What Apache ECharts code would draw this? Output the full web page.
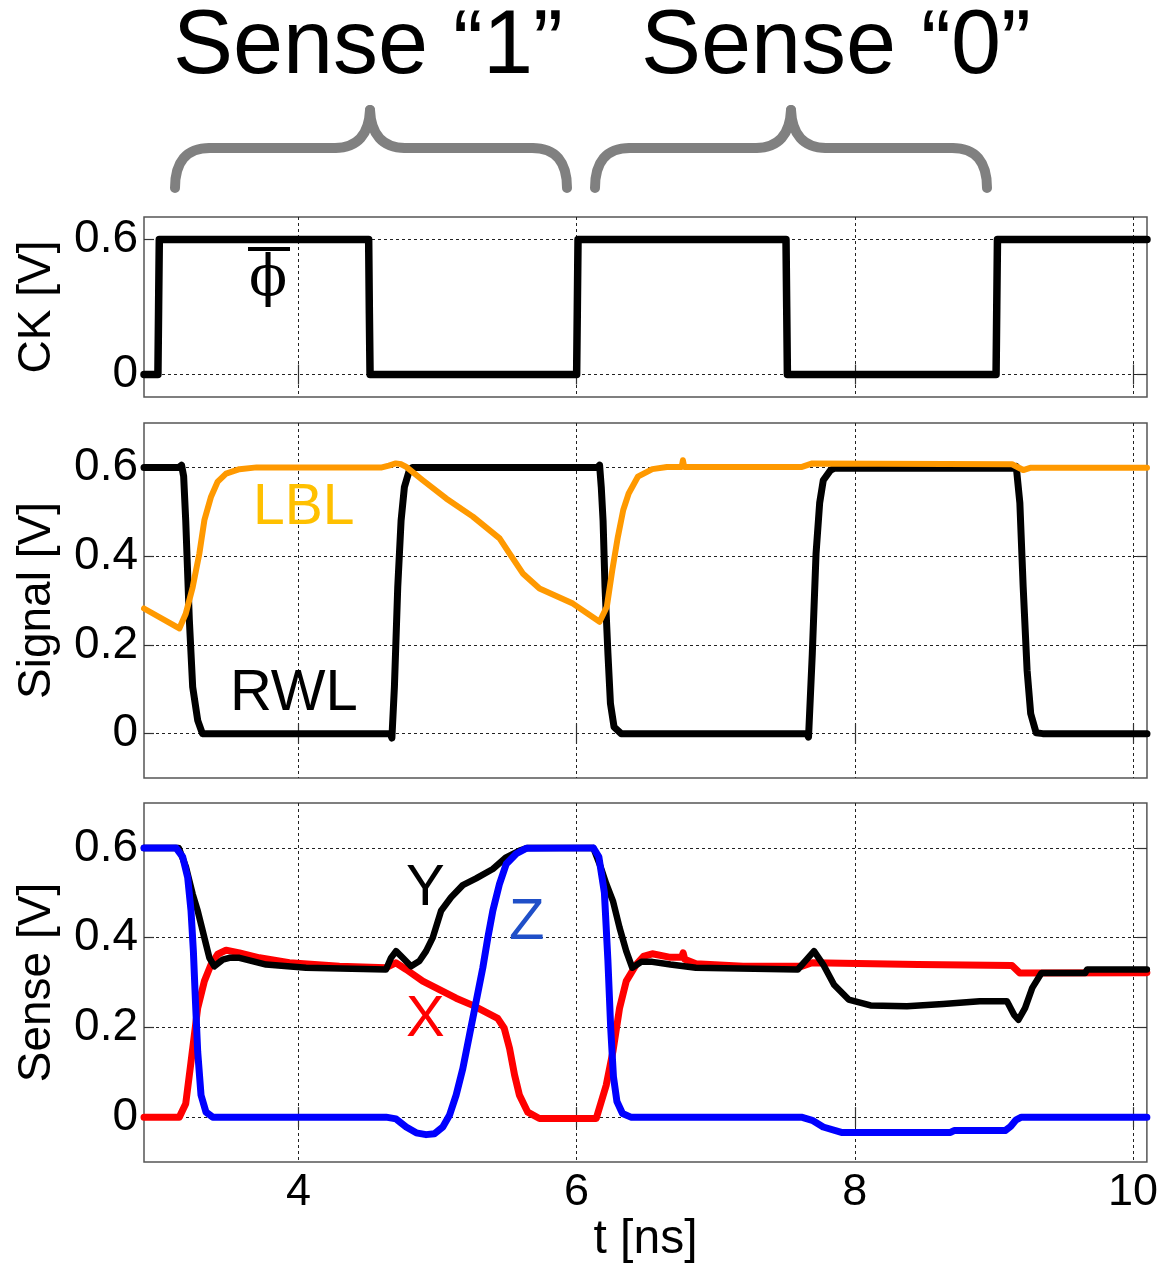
<!DOCTYPE html>
<html>
<head>
<meta charset="utf-8" />
<title>Sense waveforms</title>
<script src="https://cdn.jsdelivr.net/npm/echarts@6/dist/echarts.min.js"></script>
<style>
  html, body { margin: 0; padding: 0; background: #fff; }
  #main { width: 1161px; height: 1270px; }
</style>
</head>
<body>
<div id="main"></div>
<script>
// axis ticks
var xTicks = [4, 6, 8, 10];
var ckTicks = [0, 0.6];
var vTicks = [0, 0.2, 0.4, 0.6];

// [t (ns), V]
var ckPts = [[2.89,0],[2.99,0],[2.995,0.3],[3.0,0.6],[4.505,0.6],[4.51,0.27],[4.515,0],[6.0,0],[6.005,0.3],[6.01,0.6],[7.505,0.6],[7.51,0.3],[7.515,0],[9.015,0],[9.02,0.3],[9.025,0.6],[10.1,0.6]];

var rwlPts = [[2.89,0.6],[3.14,0.6],[3.16,0.605],[3.175,0.58],[3.19,0.48],[3.216,0.256],[3.24,0.105],[3.276,0.03],[3.31,0],[4.66,0],[4.672,-0.01],[4.69,0.105],[4.714,0.33],[4.738,0.48],[4.762,0.556],[4.798,0.594],[4.82,0.6],[6.15,0.6],[6.165,0.605],[6.177,0.556],[6.19,0.48],[6.204,0.33],[6.225,0.18],[6.243,0.068],[6.269,0.015],[6.32,0],[7.655,0],[7.667,-0.008],[7.694,0.18],[7.721,0.406],[7.747,0.52],[7.773,0.571],[7.826,0.594],[7.851,0.598],[9.14,0.598],[9.16,0.602],[9.186,0.52],[9.21,0.33],[9.238,0.143],[9.264,0.045],[9.303,0.002],[9.35,0],[10.1,0]];

var lblPts = [[2.89,0.282],[3.144,0.237],[3.19,0.27],[3.24,0.33],[3.288,0.406],[3.324,0.481],[3.372,0.534],[3.42,0.568],[3.48,0.586],[3.576,0.596],[3.7,0.6],[4.6,0.6],[4.65,0.604],[4.70,0.609],[4.74,0.607],[4.775,0.601],[4.894,0.571],[5.062,0.53],[5.254,0.489],[5.446,0.44],[5.517,0.406],[5.613,0.361],[5.733,0.327],[5.973,0.293],[6.165,0.252],[6.217,0.286],[6.256,0.368],[6.296,0.443],[6.335,0.504],[6.374,0.541],[6.44,0.579],[6.544,0.596],[6.649,0.601],[6.755,0.601],[6.764,0.616],[6.773,0.601],[7.62,0.601],[7.694,0.609],[9.13,0.607],[9.21,0.594],[9.26,0.599],[10.1,0.599]];

var xPts = [[2.89,0],[3.144,0],[3.19,0.03],[3.228,0.123],[3.276,0.243],[3.324,0.303],[3.372,0.34],[3.42,0.363],[3.48,0.372],[3.576,0.366],[3.72,0.355],[3.935,0.344],[4.295,0.336],[4.63,0.333],[4.70,0.344],[4.775,0.329],[4.894,0.303],[5.014,0.284],[5.134,0.265],[5.254,0.249],[5.433,0.22],[5.48,0.198],[5.518,0.153],[5.554,0.094],[5.589,0.049],[5.649,0.011],[5.733,-0.003],[6.141,-0.003],[6.213,0.071],[6.261,0.146],[6.309,0.243],[6.357,0.303],[6.429,0.34],[6.48,0.358],[6.544,0.364],[6.675,0.356],[6.755,0.356],[6.766,0.366],[6.777,0.352],[6.858,0.342],[7.197,0.336],[7.616,0.336],[7.694,0.344],[8.455,0.34],[9.13,0.338],[9.186,0.321],[10.1,0.322]];

var yPts = [[2.89,0.6],[3.14,0.6],[3.192,0.557],[3.24,0.497],[3.276,0.46],[3.312,0.415],[3.336,0.385],[3.36,0.355],[3.396,0.336],[3.456,0.351],[3.504,0.355],[3.576,0.355],[3.768,0.34],[4.055,0.333],[4.63,0.329],[4.666,0.355],[4.702,0.37],[4.75,0.355],[4.81,0.336],[4.87,0.348],[4.918,0.37],[4.966,0.4],[5.026,0.46],[5.098,0.49],[5.182,0.517],[5.278,0.532],[5.398,0.553],[5.494,0.579],[5.59,0.594],[5.65,0.6],[6.12,0.6],[6.17,0.56],[6.213,0.52],[6.261,0.482],[6.309,0.422],[6.357,0.37],[6.4,0.333],[6.465,0.346],[6.544,0.346],[6.675,0.34],[6.858,0.333],[7.59,0.329],[7.65,0.35],[7.707,0.37],[7.773,0.34],[7.851,0.295],[7.956,0.262],[8.113,0.249],[8.375,0.247],[8.636,0.252],[8.898,0.258],[9.094,0.258],[9.145,0.228],[9.177,0.217],[9.224,0.243],[9.276,0.288],[9.342,0.321],[9.656,0.321],[9.67,0.329],[10.1,0.329]];

var zPts = [[2.89,0.6],[3.12,0.6],[3.168,0.58],[3.204,0.534],[3.228,0.46],[3.245,0.37],[3.26,0.258],[3.276,0.146],[3.3,0.049],[3.336,0.011],[3.384,0],[4.63,0],[4.702,-0.004],[4.775,-0.022],[4.847,-0.035],[4.918,-0.039],[4.978,-0.037],[5.038,-0.022],[5.086,0.004],[5.134,0.049],[5.182,0.108],[5.23,0.183],[5.278,0.258],[5.326,0.333],[5.362,0.4],[5.398,0.46],[5.446,0.52],[5.494,0.564],[5.566,0.587],[5.637,0.599],[6.12,0.6],[6.16,0.58],[6.2,0.5],[6.225,0.35],[6.245,0.2],[6.265,0.09],[6.29,0.035],[6.33,0.008],[6.39,0],[7.616,0],[7.694,-0.007],[7.773,-0.022],[7.904,-0.034],[8.688,-0.034],[8.714,-0.03],[9.081,-0.03],[9.12,-0.021],[9.16,-0.006],[9.198,0],[10.1,0]];

var FONT = "'Liberation Sans', Arial, sans-serif";
var GRID_L = 144, GRID_W = 1003;
var grids = [
  { left: GRID_L, width: GRID_W, top: 217, height: 180 },
  { left: GRID_L, width: GRID_W, top: 423, height: 355 },
  { left: GRID_L, width: GRID_W, top: 803, height: 359 }
];
grids.forEach(function (g) {
  g.show = true;
  g.borderColor = '#555';
  g.borderWidth = 1.5;
});

var gridLine = { show: true, lineStyle: { color: '#222', type: [3, 3], width: 1 } };
var tickStyle = { color: '#333', width: 1.2 };

function xAx(gi, pos) {
  var main = pos === 'bottom';
  return {
    type: 'value', gridIndex: gi, position: pos, min: 2.89, max: 10.1,
    axisLine: { show: false },
    axisTick: { show: true, inside: true, length: 10, customValues: xTicks, lineStyle: tickStyle },
    axisLabel: { show: main && gi === 2, customValues: xTicks, margin: 8, color: '#000', fontSize: 45, fontFamily: FONT },
    splitLine: main ? gridLine : { show: false },
    name: main && gi === 2 ? 't [ns]' : '',
    nameLocation: 'middle', nameGap: 52,
    nameTextStyle: { color: '#000', fontSize: 48, fontFamily: FONT }
  };
}
function yAx(gi, pos, ticks, name) {
  var main = pos === 'left';
  return {
    type: 'value', gridIndex: gi, position: pos, min: -0.1, max: 0.7,
    axisLine: { show: false },
    axisTick: { show: true, inside: true, length: 10, customValues: ticks, lineStyle: tickStyle },
    axisLabel: { show: main, customValues: ticks, margin: 6, color: '#000', fontSize: 46, fontFamily: FONT },
    splitLine: main ? gridLine : { show: false },
    name: main ? name : '',
    nameLocation: 'middle', nameGap: 84,
    nameTextStyle: { color: '#000', fontSize: 46, fontFamily: FONT }
  };
}

function line(name, pts, color, width, xi, yi) {
  return {
    name: name, type: 'line', xAxisIndex: xi, yAxisIndex: yi, data: pts,
    showSymbol: false, symbol: 'none', smooth: false, animation: false,
    lineStyle: { color: color, width: width, cap: 'round', join: 'round' }
  };
}

function txt(str, x, y, size, color, align, family) {
  return {
    type: 'text', x: x, y: y, z: 100,
    style: {
      text: str, fill: color, fontSize: size, fontFamily: family || FONT,
      textAlign: align || 'left', textVerticalAlign: 'middle'
    }
  };
}

// curly brace from x0 to x1 with its tip at xm
var braceStyle = { fill: null, stroke: '#808080', lineWidth: 10, lineCap: 'round' };
function brace(x0, xm, x1) {
  var yEnd = 188, yMid = 148, yTip = 110;
  var parts = [
    { type: 'bezierCurve', shape: { x1: x0, y1: yEnd, cpx1: x0, cpy1: yEnd - 26, cpx2: x0 + 11, cpy2: yMid, x2: x0 + 35, y2: yMid } },
    { type: 'line', shape: { x1: x0 + 35, y1: yMid, x2: xm - 35, y2: yMid } },
    { type: 'bezierCurve', shape: { x1: xm - 35, y1: yMid, cpx1: xm - 12, cpy1: yMid, cpx2: xm - 1, cpy2: yMid - 14, x2: xm, y2: yTip } },
    { type: 'bezierCurve', shape: { x1: xm, y1: yTip, cpx1: xm + 1, cpy1: yMid - 14, cpx2: xm + 12, cpy2: yMid, x2: xm + 35, y2: yMid } },
    { type: 'line', shape: { x1: xm + 35, y1: yMid, x2: x1 - 35, y2: yMid } },
    { type: 'bezierCurve', shape: { x1: x1 - 35, y1: yMid, cpx1: x1 - 11, cpy1: yMid, cpx2: x1, cpy2: yEnd - 26, x2: x1, y2: yEnd } }
  ];
  parts.forEach(function (p) { p.z = 100; p.style = braceStyle; });
  return parts;
}

var myChart = echarts.init(document.getElementById('main'), null, { renderer: 'canvas' });
var option = {
  animation: false,
  backgroundColor: '#fff',
  grid: grids,
  xAxis: [xAx(0, 'bottom'), xAx(1, 'bottom'), xAx(2, 'bottom'), xAx(0, 'top'), xAx(1, 'top'), xAx(2, 'top')],
  yAxis: [
    yAx(0, 'left', ckTicks, 'CK [V]'), yAx(1, 'left', vTicks, 'Signal [V]'), yAx(2, 'left', vTicks, 'Sense [V]'),
    yAx(0, 'right', ckTicks, ''), yAx(1, 'right', vTicks, ''), yAx(2, 'right', vTicks, '')
  ],
  series: [
    line('CK', ckPts, '#000', 7.5, 0, 0),
    line('RWL', rwlPts, '#000', 7, 1, 1),
    line('LBL', lblPts, '#FF9900', 6, 1, 1),
    line('X', xPts, '#FF0000', 7, 2, 2),
    line('Y', yPts, '#000', 6.5, 2, 2),
    line('Z', zPts, '#0000FF', 7, 2, 2)
  ],
  graphic: [].concat(
    [
      txt('Sense \u201C1\u201D', 368, 48, 90, '#000', 'center'),
      txt('Sense \u201C0\u201D', 836, 48, 90, '#000', 'center')
    ],
    brace(175, 370, 567),
    brace(595, 791, 987),
    [
      txt('\u03D5', 268, 280, 56, '#000', 'center', "'DejaVu Serif', serif"),
      { type: 'rect', z: 100, shape: { x: 248, y: 247, width: 42, height: 4 }, style: { fill: '#000' } },
      txt('LBL', 253, 508, 57, '#FFC000'),
      txt('RWL', 230, 694, 58, '#000'),
      txt('Y', 406, 889, 58, '#000'),
      txt('Z', 509, 923, 58, '#1F4FC8'),
      txt('X', 406, 1020, 58, '#FF0000')
    ]
  )
};
myChart.setOption(option);
</script>
</body>
</html>
